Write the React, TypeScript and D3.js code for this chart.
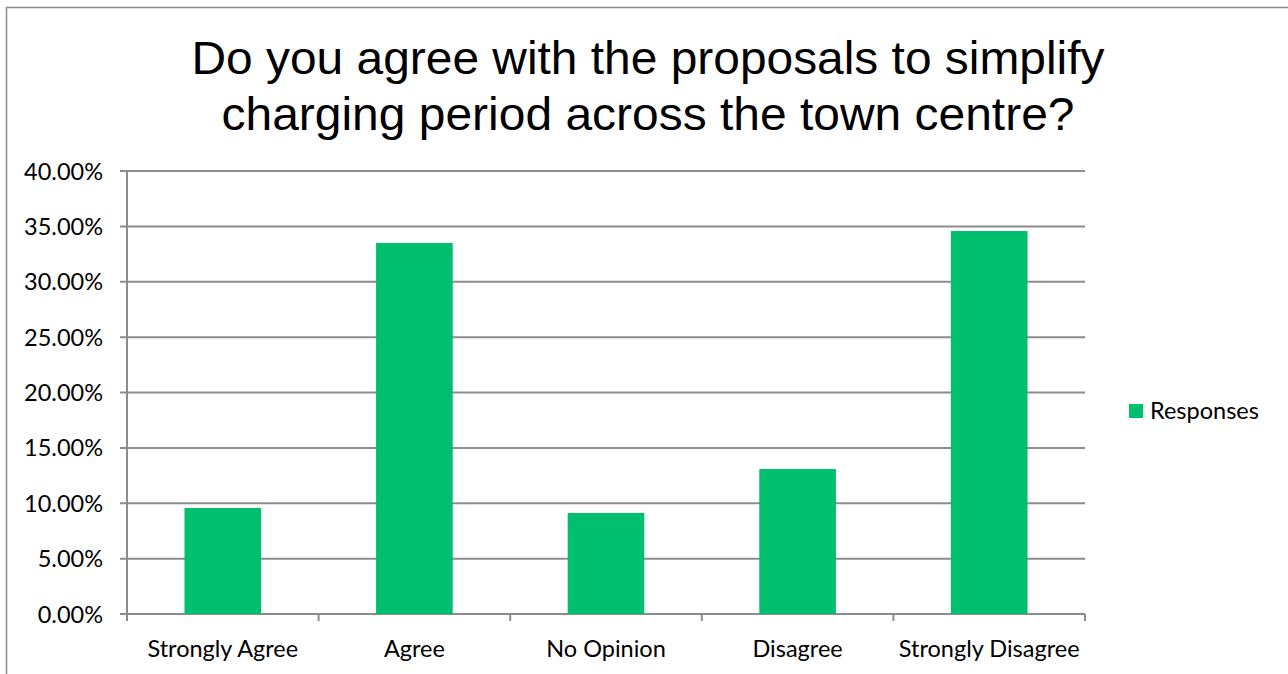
import React from "react";
import * as d3 from "d3";

const categories = ["Strongly Agree", "Agree", "No Opinion", "Disagree", "Strongly Disagree"];
const responses = [0.0957, 0.335, 0.0912, 0.1309, 0.3458];
const yTicks = [0, 0.05, 0.1, 0.15, 0.2, 0.25, 0.3, 0.35, 0.4];
const titleLines = ["Do you agree with the proposals to simplify", "charging period across the town centre?"];
const seriesName = "Responses";

const W = 1288, H = 674;
const left = 127, right = 1085, top = 171, bottom = 614;
const barColor = "#00BF6F";
const gridColor = "#8c8c8c";
const labelFont = "Lato, 'Open Sans', sans-serif";

export default function App() {
  const x = d3.scaleBand<string>().domain(categories).range([left, right]).paddingInner(0.6).paddingOuter(0.3);
  const xb = d3.scaleBand<string>().domain(categories).range([left, right]);
  const y = d3.scaleLinear().domain([0, 0.4]).range([bottom, top]);
  const fmt = (v: number) => (v * 100).toFixed(2) + "%";
  return (
    <svg width={W} height={H} style={{ position: "absolute", left: 0, top: 0, background: "#fff" }}>
      <rect x={6.5} y={7.5} width={W + 10} height={H + 10} fill="#fff" stroke="#8c8c8c" strokeWidth={1.5} />
      <g fontFamily="'Liberation Sans', Arial, sans-serif" fontSize={46} fill="#000" textAnchor="middle">
        <text x={648} y={74} textLength={913} lengthAdjust="spacingAndGlyphs">{titleLines[0]}</text>
        <text x={648} y={130} textLength={853} lengthAdjust="spacingAndGlyphs">{titleLines[1]}</text>
      </g>
      {yTicks.map((t) => (
        <g key={t}>
          <line x1={left - 7} x2={right} y1={y(t)} y2={y(t)} stroke={gridColor} strokeWidth={2} />
          <text x={103} y={y(t) + 8.5} textAnchor="end" fontFamily={labelFont} fontSize={23.5} fill="#000">{fmt(t)}</text>
        </g>
      ))}
      <line x1={left} x2={left} y1={top} y2={bottom} stroke={gridColor} strokeWidth={2} />
      {categories.map((c) => (
        <line key={c} x1={xb(c)!} x2={xb(c)!} y1={bottom} y2={bottom + 7} stroke={gridColor} strokeWidth={2} />
      ))}
      <line x1={right} x2={right} y1={bottom} y2={bottom + 7} stroke={gridColor} strokeWidth={2} />
      {categories.map((c, i) => (
        <rect key={c} x={x(c)!} y={y(responses[i])} width={x.bandwidth()} height={bottom - y(responses[i])} fill={barColor} />
      ))}
      {categories.map((c) => (
        <text key={c} x={xb(c)! + xb.bandwidth() / 2} y={657} textAnchor="middle" fontFamily={labelFont} fontSize={23.5} fill="#000">{c}</text>
      ))}
      <rect x={1129} y={404} width={14} height={14} fill={barColor} />
      <text x={1150} y={419} fontFamily={labelFont} fontSize={23.5} fill="#000">{seriesName}</text>
    </svg>
  );
}
